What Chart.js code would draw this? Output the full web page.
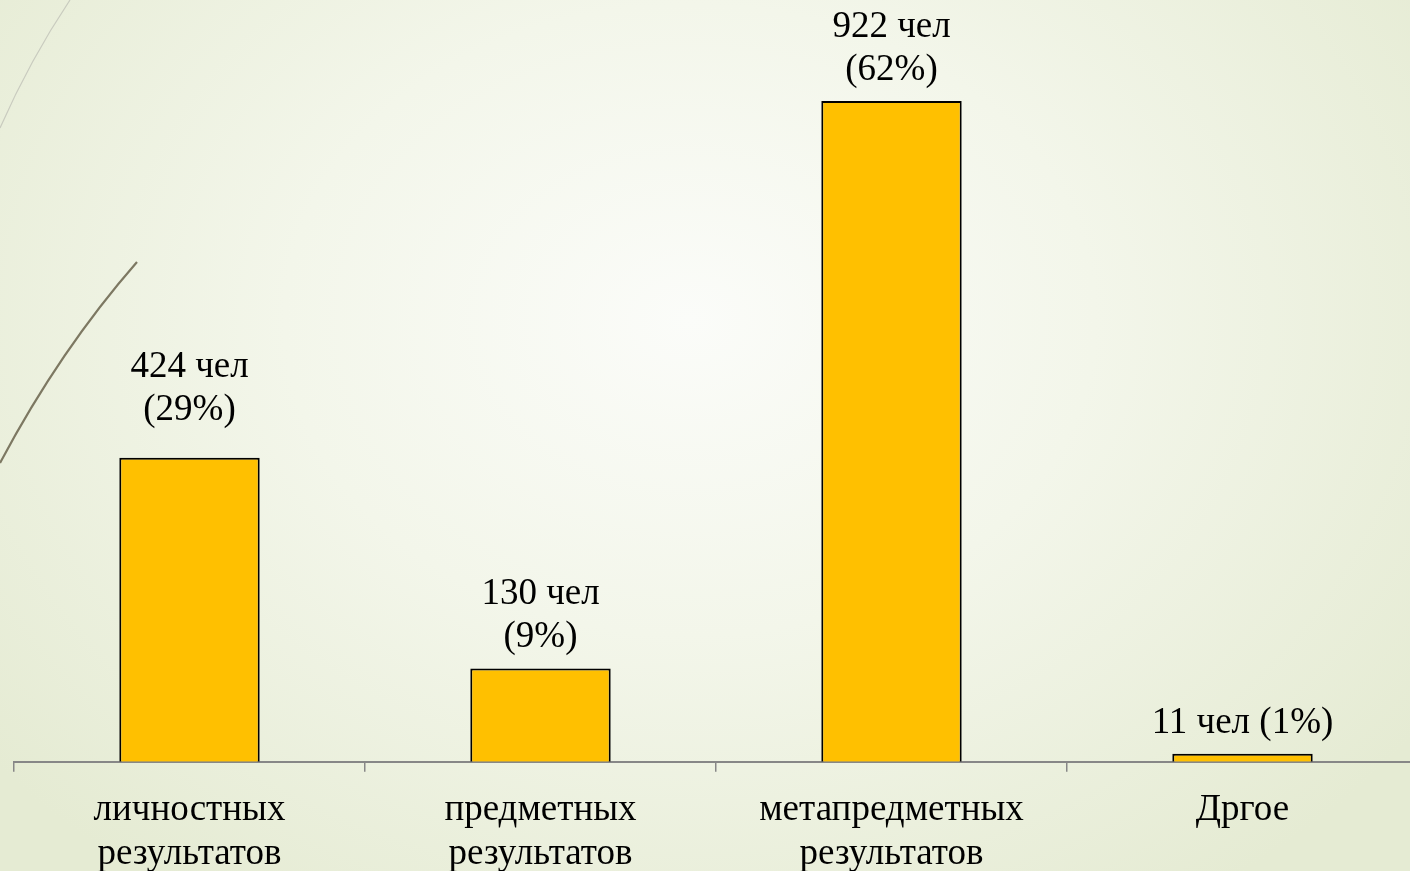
<!DOCTYPE html>
<html>
<head>
<meta charset="utf-8">
<script src="https://cdn.jsdelivr.net/npm/chart.js@4"></script>
<style>
  html, body { margin: 0; padding: 0; overflow: hidden; }
  body {
    width: 1410px; height: 871px; position: relative;
    background: radial-gradient(ellipse 900px 700px at 690px 320px, #fbfcf9 0%, #f3f6ea 45%, #e5ebd3 100%);
  }
  #deco { position: absolute; left: 0; top: 0; }
  #wrap { position: absolute; left: 0; top: 0; width: 1418px; height: 871px; }
</style>
</head>
<body>
<svg id="deco" width="200" height="500">
  <path d="M70 0 Q 30 60 0 128" stroke="#c9cbbf" stroke-width="1.2" fill="none"/>
  <path d="M137 262 Q 60 350 0 463" stroke="#7d7862" stroke-width="2.2" fill="none"/>
</svg>
<div id="wrap"><canvas id="chart"></canvas></div>
<script>
const categories = [
  ['личностных', 'результатов'],
  ['предметных', 'результатов'],
  ['метапредметных', 'результатов'],
  'Дргое'
];
const people = [424, 130, 922, 11];
const percents = [29, 9, 62, 1];
const valueLabels = [
  ['424 чел', '(29%)'],
  ['130 чел', '(9%)'],
  ['922 чел', '(62%)'],
  ['11 чел (1%)']
];

const font = "'Liberation Serif', 'Times New Roman', serif";

// labels above the bars
const barLabels = {
  id: 'barLabels',
  afterDatasetsDraw(chart, args, opts) {
    const ctx = chart.ctx;
    const meta = chart.getDatasetMeta(0);
    ctx.save();
    ctx.fillStyle = '#000';
    ctx.font = '37px ' + font;
    ctx.textAlign = 'center';
    ctx.textBaseline = 'middle';
    meta.data.forEach((bar, i) => {
      const lines = valueLabels[i];
      const lift = opts.lift[i];
      lines.forEach((t, j) => {
        ctx.fillText(t, bar.x, bar.y - lift - (lines.length - 1 - j) * 43);
      });
    });
    ctx.restore();
  }
};

new Chart(document.getElementById('chart'), {
  type: 'bar',
  data: {
    labels: categories,
    datasets: [{
      data: people,
      backgroundColor: '#ffc000',
      borderColor: '#000',
      borderWidth: 2,
      barPercentage: 0.4,
      categoryPercentage: 1
    }]
  },
  options: {
    responsive: true,
    maintainAspectRatio: false,
    animation: false,
    layout: { padding: { left: 14, right: 0, top: 0, bottom: -22 } },
    plugins: {
      legend: { display: false },
      tooltip: { enabled: false },
      barLabels: { lift: [48, 31, 31, 31] }
    },
    scales: {
      y: {
        display: false,
        min: 0,
        max: 1063
      },
      x: {
        grid: {
          drawOnChartArea: false,
          tickLength: 10,
          color: '#878787',
          lineWidth: 1.5
        },
        border: { color: '#878787', width: 2 },
        ticks: {
          color: '#000',
          font: { family: font, size: 37, lineHeight: 1.18 },
          padding: 17,
          maxRotation: 0,
          autoSkip: false
        }
      }
    }
  },
  plugins: [barLabels]
});
</script>
</body>
</html>
